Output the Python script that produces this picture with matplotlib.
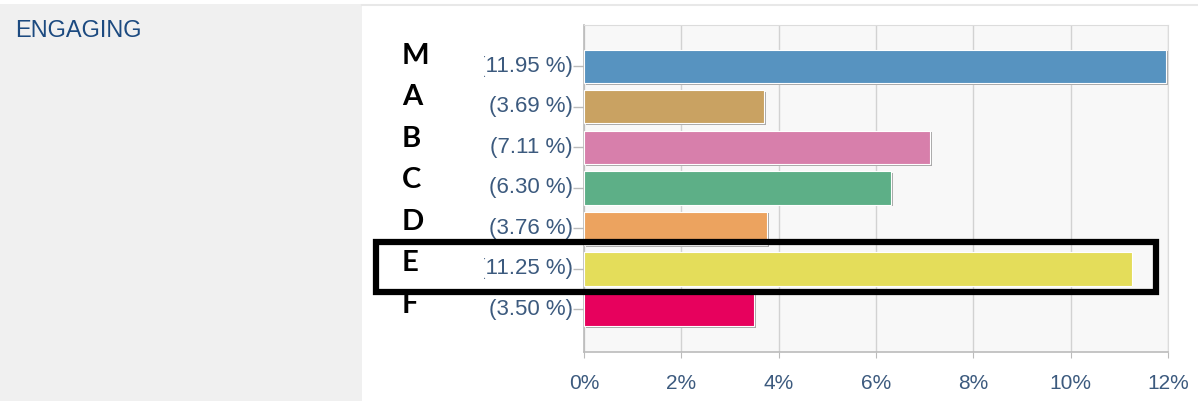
import matplotlib.pyplot as plt
from matplotlib.patches import Rectangle
from matplotlib.lines import Line2D
from matplotlib.transforms import Bbox, TransformedBbox

# data
letters = ['M', 'A', 'B', 'C', 'D', 'E', 'F']
values = [11.95, 3.69, 7.11, 6.30, 3.76, 11.25, 3.50]
labels = ['(11.95 %)', '(3.69 %)', '(7.11 %)', '(6.30 %)', '(3.76 %)', '(11.25 %)', '(3.50 %)']
colors = ['#5793c0', '#c9a262', '#d77fab', '#5daf87', '#eca35f', '#e4dd5a', '#e7015d']
xticks = [0, 2, 4, 6, 8, 10, 12]
xticklabels = ['0%', '2%', '4%', '6%', '8%', '10%', '12%']

W, H = 1198, 401
fig = plt.figure(figsize=(W / 100, H / 100), dpi=100)
fig.patch.set_facecolor('white')

# grey panel on the left
fig.patches.append(Rectangle((0, 0), 362 / W, 397 / H, transform=fig.transFigure,
                             facecolor='#f0f0f0', edgecolor='none', zorder=0))
fig.lines.append(Line2D([362 / W, 1], [1 - 5 / H, 1 - 5 / H], transform=fig.transFigure,
                        color='#e8e8e8', linewidth=1.5))
fig.text(15 / W, 1 - 31 / H, 'ENGAGING', fontsize=17, color='#1c4a80',
         family='Liberation Sans', va='center', ha='left')

ax = fig.add_axes([584 / W, 49 / H, 584 / W, 327 / H])
ax.set_facecolor('#f8f8f8')
ypos = list(range(len(values)))
for i in ypos:
    ax.barh(i + 0.04, values[i], height=0.82, left=0.04, color='#a8a8a8', zorder=2)
    ax.barh(i, values[i], height=0.82, color=colors[i], edgecolor='#ffffff',
            linewidth=0.8, zorder=3)

ax.set_xlim(0, 12)
ax.set_ylim(7.05, -1.02)
ax.set_xticks(xticks)
ax.set_xticklabels(xticklabels, fontsize=15, color='#3c5a7e', family='Liberation Sans')
ax.set_yticks(ypos)
ax.set_yticklabels([''] * len(ypos))
ax.tick_params(axis='y', length=8, color='#bbbbbb', width=1)
ax.tick_params(axis='x', length=4, color='#bbbbbb', pad=12)
ax.grid(axis='x', color='#d2d2d2', linewidth=1, zorder=0)
ax.set_axisbelow(True)
for s in ['top', 'right']:
    ax.spines[s].set_color('#dcdcdc')
for s in ['left', 'bottom']:
    ax.spines[s].set_color('#bbbbbb')
    ax.spines[s].set_linewidth(1.2)

# value labels, clipped on the left like the original
clip = TransformedBbox(Bbox.from_extents(484 / W, 0, 1, 1), fig.transFigure)
for i in ypos:
    t = ax.text(-0.019, i, labels[i], transform=ax.get_yaxis_transform(),
                ha='right', va='center', fontsize=16, color='#3c5a7e',
                family='Liberation Sans', clip_on=True)
    t.set_clip_box(clip)

# letters
for i in ypos:
    ax.text(-0.312, i * 1.025 - 0.26, letters[i], transform=ax.get_yaxis_transform(),
            ha='left', va='center', fontsize=21, fontweight='bold',
            family='Lato', color='black')

# highlight box around E
fig.patches.append(Rectangle((376 / W, 1 - 292 / H), 780 / W, 50 / H,
                             transform=fig.transFigure, fill=False,
                             edgecolor='black', linewidth=4.5, zorder=10))

fig.savefig('out.png', dpi=100)
